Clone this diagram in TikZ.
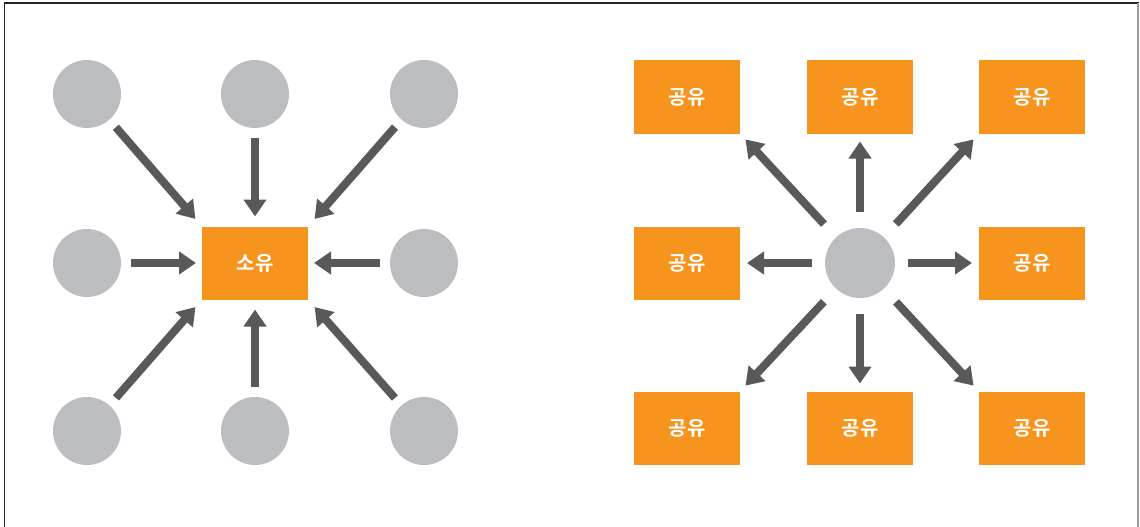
\documentclass[tikz,border=0pt]{standalone}
\usepackage{fontspec}
\newfontfamily\kofont{Noto Sans CJK KR Bold}
\usetikzlibrary{arrows.meta}
\definecolor{dotgray}{HTML}{BCBDC0}
\definecolor{boxorange}{HTML}{F7941D}
\definecolor{arrowgray}{HTML}{58595B}
\tikzset{
  x=1pt, y=-1pt,
  dot/.style={circle, fill=dotgray, minimum size=68pt, inner sep=0pt, outer sep=0pt},
  tag/.style={fill=boxorange, minimum width=106pt, minimum height=73pt, inner sep=0pt, outer sep=0pt,
              text=white, font=\kofont\fontsize{20}{20}\selectfont},
  arr/.style={draw=arrowgray, line width=8pt,
              -{Triangle[length=17pt, width=22pt]}, shorten <=10pt, shorten >=10pt}
}
\begin{document}
\begin{tikzpicture}
\useasboundingbox (0,0) rectangle (1140,527);
% frame
\draw[line width=1.2pt, black!85] (4.5,527) -- (4.5,3) -- (1139,3);
\draw[line width=2pt, black!40] (1137.5,3) -- (1137.5,527);

% left: many sources pointing into one
\node[tag] (own) at (255,263) {소유};
\node[dot] (l1) at (87,94) {};
\node[dot] (l2) at (255,94) {};
\node[dot] (l3) at (424,94) {};
\node[dot] (l4) at (87,263) {};
\node[dot] (l6) at (424,263) {};
\node[dot] (l7) at (87,431) {};
\node[dot] (l8) at (255,431) {};
\node[dot] (l9) at (424,431) {};
\draw[arr] (l1) -- (own.north west);
\draw[arr] (l2) -- (own.north);
\draw[arr] (l3) -- (own.north east);
\draw[arr, shorten >=6pt] (l4) -- (own.west);
\draw[arr, shorten >=6pt] (l6) -- (own.east);
\draw[arr] (l7) -- (own.south west);
\draw[arr] (l8) -- (own.south);
\draw[arr] (l9) -- (own.south east);

% right: one source pointing out to many
\node[dot, minimum size=70pt] (hub) at (860,263) {};
\node[tag] (s1) at (687,97) {공유};
\node[tag] (s2) at (860,97) {공유};
\node[tag] (s3) at (1032,97) {공유};
\node[tag] (s4) at (687,263) {공유};
\node[tag] (s6) at (1032,263) {공유};
\node[tag] (s7) at (687,428) {공유};
\node[tag] (s8) at (860,428) {공유};
\node[tag] (s9) at (1032,428) {공유};
\draw[arr, shorten <=18pt, shorten >=8pt] (hub) -- (s1.south east);
\draw[arr, shorten <=16pt, shorten >=8pt] (hub) -- (s2.south);
\draw[arr, shorten <=18pt, shorten >=8pt] (hub) -- (s3.south west);
\draw[arr, shorten <=13pt, shorten >=7pt] (hub) -- (s4.east);
\draw[arr, shorten <=13pt, shorten >=7pt] (hub) -- (s6.west);
\draw[arr, shorten <=18pt, shorten >=8pt] (hub) -- (s7.north east);
\draw[arr, shorten <=16pt, shorten >=8pt] (hub) -- (s8.north);
\draw[arr, shorten <=18pt, shorten >=8pt] (hub) -- (s9.north west);
\end{tikzpicture}
\end{document}
